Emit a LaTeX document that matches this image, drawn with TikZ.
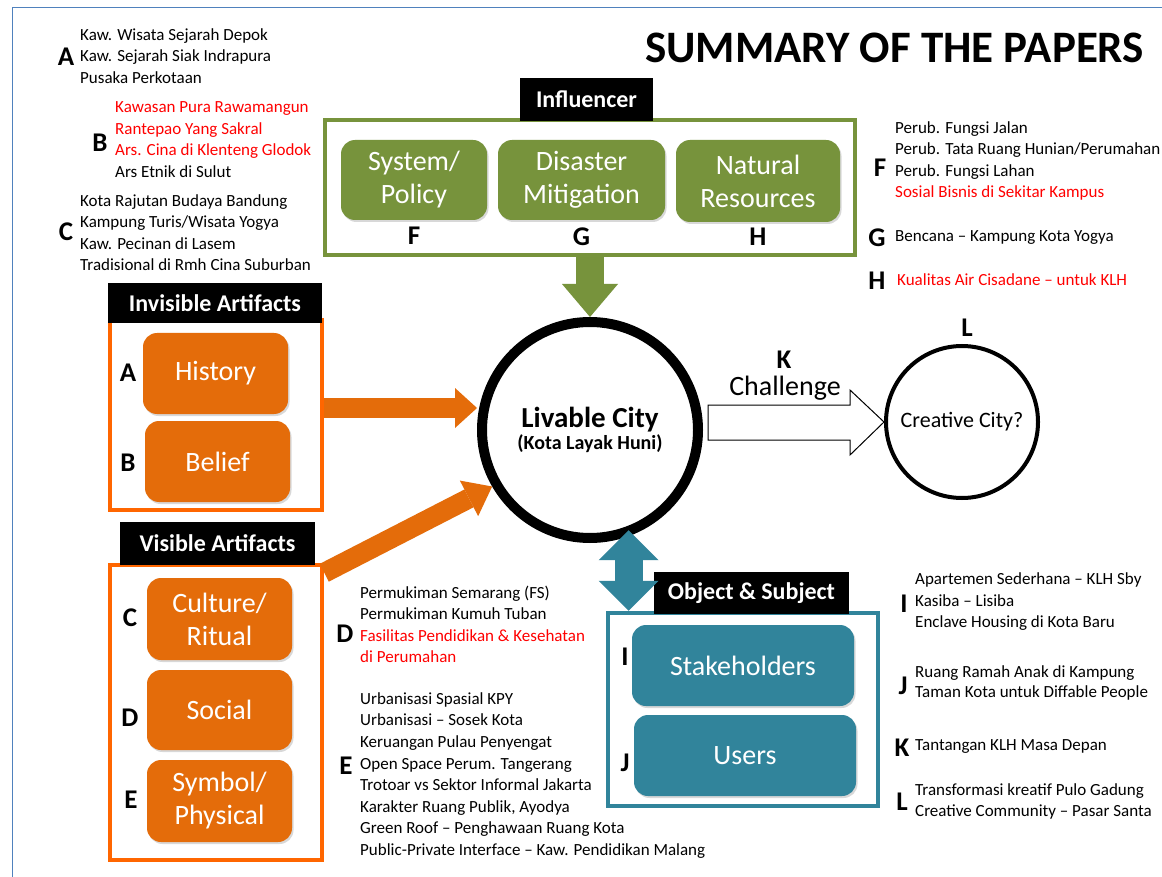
\documentclass[tikz,border=0pt]{standalone}
\usepackage{fontspec}
\setmainfont{Carlito}
\usetikzlibrary{arrows.meta,shadows,positioning,calc}

\definecolor{olivegreen}{HTML}{77933C}
\definecolor{burnt}{HTML}{E46C0A}
\definecolor{brightorange}{HTML}{FF6600}
\definecolor{tealblue}{HTML}{31849B}
\definecolor{pageblue}{HTML}{4F81BD}

\tikzset{
  shade/.style={drop shadow={opacity=0.3, shadow xshift=1.5pt, shadow yshift=-2pt}},
  box/.style={rounded corners=14pt, text=white, align=center, inner sep=0pt, font=\fontsize{28}{33}\selectfont, shade},
  gbox/.style={box, fill=olivegreen},
  obox/.style={box, fill=burnt},
  tbox/.style={box, fill=tealblue},
  frame/.style={draw=#1, fill=white, line width=4.5pt, inner sep=0pt, shade},
  tag/.style={fill=black, text=white, inner sep=0pt, font=\bfseries\fontsize{24}{28}\selectfont},
  letter/.style={inner sep=0pt, font=\bfseries\fontsize{27}{30}\selectfont},
  list/.style={anchor=west, align=left, inner sep=0pt, font=\fontsize{17}{21.5}\selectfont},
}

\begin{document}
\begin{tikzpicture}[x=1pt,y=-1pt]
  \clip (0,0) rectangle (1162,877);
  \fill[white] (0,0) rectangle (1162,877);
  \draw[pageblue, line width=1pt] (12,8) rectangle (1200,900);

  \node[anchor=west, inner sep=0pt, font=\bfseries\fontsize{45}{50}\selectfont] (title) at (645,48) {SUMMARY OF THE PAPERS};

  \node[frame=olivegreen, minimum width=530, minimum height=135] (infl) at (590,187.5) {};
  \node[tag, minimum width=133, minimum height=43] (infltag) at (586.5,99.5) {Influencer};
  \node[gbox, minimum width=146, minimum height=80] (policy) at (414,180) {System/\\Policy};
  \node[gbox, minimum width=167, minimum height=80] (disaster) at (581.5,180) {Disaster\\Mitigation};
  \node[gbox, minimum width=164, minimum height=82] (natural) at (758,181) {Natural\\Resources};
  \node[letter, below=7pt of policy] (lf) {F};
  \node[letter, below=7pt of disaster] (lg) {G};
  \node[letter, below=6pt of natural] (lh) {H};

  \node[frame=brightorange, minimum width=212, minimum height=190] (invis) at (216,415) {};
  \node[tag, minimum width=214, minimum height=40] (invistag) at (215,303) {Invisible Artifacts};
  \node[obox, minimum width=145, minimum height=81] (history) at (215.5,373.5) {History};
  \node[obox, minimum width=145, minimum height=81] (belief) at (217.5,461.5) {Belief};
  \node[letter] (la) at (128,373) {A};
  \node[letter] (lb) at (128,463) {B};

  \node[frame=brightorange, minimum width=212, minimum height=295] (vis) at (216,712.5) {};
  \node[tag, minimum width=195, minimum height=43] (vistag) at (217.5,543.5) {Visible Artifacts};
  \node[obox, minimum width=145, minimum height=82] (culture) at (219.5,619) {Culture/\\Ritual};
  \node[obox, minimum width=145, minimum height=80] (social) at (219.5,710) {Social};
  \node[obox, minimum width=145, minimum height=82] (symbol) at (219.5,801) {Symbol/\\Physical};
  \node[letter] (lc) at (130,618) {C};
  \node[letter] (ld) at (130,718) {D};
  \node[letter] (le) at (131,800) {E};

  \node[frame=tealblue, minimum width=270, minimum height=193] (objframe) at (743,709.5) {};
  \node[tag, minimum width=195, minimum height=42] (objtag) at (751.5,593) {Object \& Subject};
  \node[tbox, minimum width=222, minimum height=81] (stake) at (743,665.5) {Stakeholders};
  \node[tbox, minimum width=222, minimum height=81] (users) at (745,755.5) {Users};
  \node[letter] (li) at (625,657) {I};
  \node[letter] (lj) at (625,763) {J};

  \node[circle, draw, fill=white, line width=10pt, minimum size=216, align=center, font=\bfseries] (city) at (590,430)
    {\fontsize{29}{30}\selectfont Livable City\\[2pt]\fontsize{20}{24}\selectfont (Kota Layak Huni)};
  \node[circle, draw, line width=4pt, minimum size=152, font=\fontsize{22}{26}\selectfont] (creative) at (962,422) {Creative City?};
  \node[letter] (ll) at (967,328) {L};
  \node[letter] (lk) at (784,360) {K};
  \node[inner sep=0pt, font=\fontsize{28}{30}\selectfont] (challenge) at (785,388) {Challenge};

  \draw[olivegreen, line width=28pt, -{Triangle[length=33pt 0 0, width=56pt 0 0, line width=0pt]}] (infl.south) -- (city.north);
  \draw[burnt, line width=20pt, -{Triangle[length=22pt 0 0, width=40pt 0 0, line width=0pt]}] ([yshift=7pt]invis.east) -- ([yshift=7pt]invis.east -| city.west);
  \draw[burnt, line width=20pt, -{Triangle[length=26pt 0 0, width=40pt 0 0, line width=0pt]}] ([yshift=-10pt]vis.north east) -- (city.210);
  \draw[tealblue, line width=28pt, {Triangle[length=30pt 0 0, width=60pt 0 0, line width=0pt]}-{Triangle[length=30pt 0 0, width=60pt 0 0, line width=0pt]}] (city.290 |- objframe.north) -- ([yshift=6pt]city.290);
  \draw[line width=1pt, fill=white] ([xshift=5pt]city.east |- creative.west) ++(0,-17) -- ++(142,0) -- ++(0,-15) -- (creative.west) -- ++(-34,33) -- ++(0,-15) -- ++(-142,0) -- cycle;

  \node[letter] (ka) at (66,57) {A};
  \node[list] (ta) at (80,56) {Kaw. Wisata Sejarah Depok\\Kaw. Sejarah Siak Indrapura\\Pusaka Perkotaan};
  \node[letter] (kb) at (100,143) {B};
  \node[list, text=red] (tb) at (115,139.5) {Kawasan Pura Rawamangun\\Rantepao Yang Sakral\\Ars. Cina di Klenteng Glodok\\\textcolor{black}{Ars Etnik di Sulut}};
  \node[letter] (kc) at (66,232) {C};
  \node[list] (tc) at (80,232.5) {Kota Rajutan Budaya Bandung\\Kampung Turis/Wisata Yogya\\Kaw. Pecinan di Lasem\\Tradisional di Rmh Cina Suburban};

  \node[letter] (kf) at (880,168) {F};
  \node[list] (tf) at (895,161) {Perub. Fungsi Jalan\\Perub. Tata Ruang Hunian/Perumahan\\Perub. Fungsi Lahan\\\textcolor{red}{Sosial Bisnis di Sekitar Kampus}};
  \node[letter] (kg) at (877,238) {G};
  \node[list] (tg) at (895,238) {Bencana – Kampung Kota Yogya};
  \node[letter] (kh) at (877,281) {H};
  \node[list, text=red] (th) at (897,280) {Kualitas Air Cisadane – untuk KLH};

  \node[letter] (kd) at (345,634) {D};
  \node[list] (td) at (360,624.5) {Permukiman Semarang (FS)\\Permukiman Kumuh Tuban\\\textcolor{red}{Fasilitas Pendidikan \& Kesehatan}\\\textcolor{red}{di Perumahan}};
  \node[letter] (ke) at (346,766) {E};
  \node[list, font=\fontsize{17}{21.6}\selectfont] (te) at (360,775.5) {Urbanisasi Spasial KPY\\Urbanisasi – Sosek Kota\\Keruangan Pulau Penyengat\\Open Space Perum. Tangerang\\Trotoar vs Sektor Informal Jakarta\\Karakter Ruang Publik, Ayodya\\Green Roof – Penghawaan Ruang Kota\\Public-Private Interface – Kaw. Pendidikan Malang};

  \node[letter] (ki) at (904,604) {I};
  \node[list] (ti) at (915,602) {Apartemen Sederhana – KLH Sby\\Kasiba – Lisiba\\Enclave Housing di Kota Baru};
  \node[letter] (kj) at (903,686) {J};
  \node[list, font=\fontsize{17}{20}\selectfont] (tj) at (915,683) {Ruang Ramah Anak di Kampung\\Taman Kota untuk Diffable People};
  \node[letter] (kk) at (902,748) {K};
  \node[list] (tk) at (915,747) {Tantangan KLH Masa Depan};
  \node[letter] (kl) at (902,802) {L};
  \node[list] (tl) at (915,801.5) {Transformasi kreatif Pulo Gadung\\Creative Community – Pasar Santa};
\end{tikzpicture}
\end{document}
